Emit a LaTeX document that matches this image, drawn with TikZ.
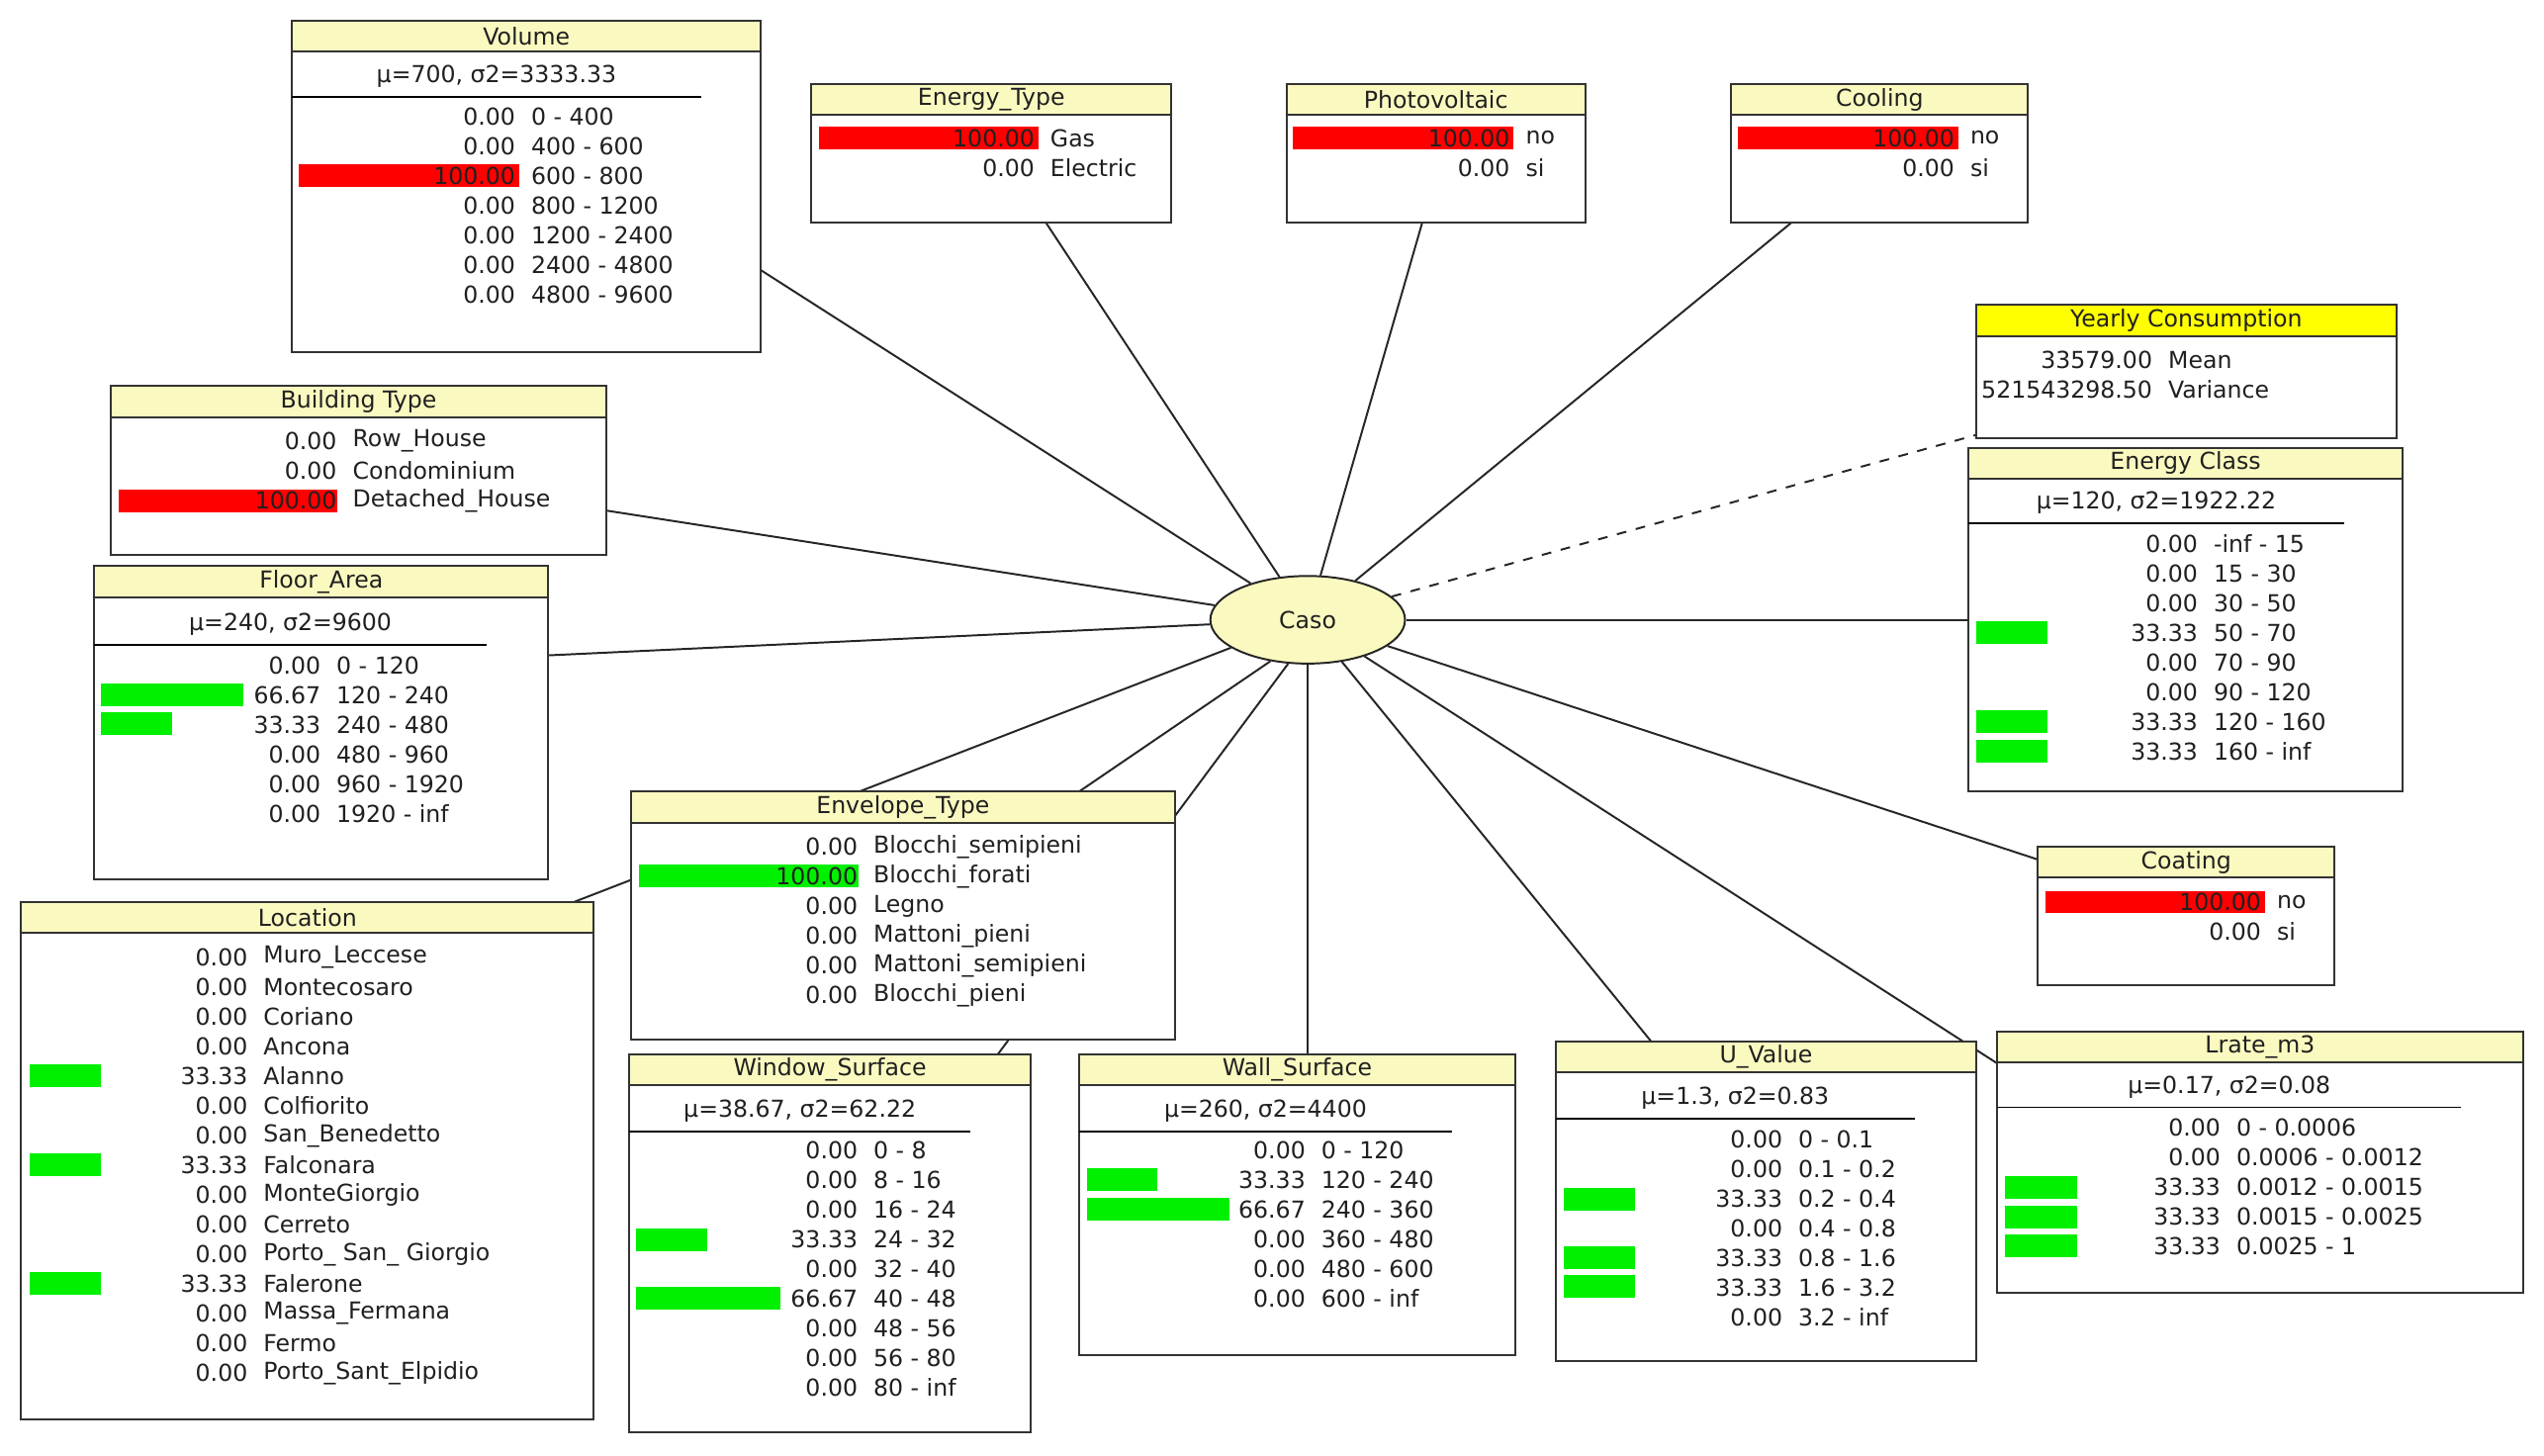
\documentclass[tikz,border=0pt]{standalone}
\usepackage{fontspec}
\setmainfont{DejaVu Sans}
\usetikzlibrary{fit,shapes.geometric}
\definecolor{tyel}{HTML}{FAFAC0}
\definecolor{tyel2}{HTML}{FFFF00}
\definecolor{bred}{HTML}{FF0000}
\definecolor{bgrn}{HTML}{00F000}
\definecolor{txtc}{HTML}{202020}
\newcommand\nbox[7]{% name x1 y1 x2 y2 title fill
  \node[frame,fit={(#2,#3)(#4,#5)}] (#1) {};
  \node[frame,fill=#7,fit={(#2,#3)(#4,#3+19)}] (#1-t) {};
  \node[txt] (#1-tt) at (#1-t) {#6};}
\newcommand\stat[5]{% name x1 x2 y text
  \node[txt] (#1-s) at ({(#2+#3)/2},#4) {#5};
  \draw[line width=0.6pt] (#2,#4+12.5) -- (#3,#4+12.5);}
\newcommand\pbar[4]{\fill[#4] (#1,#3-7) rectangle (#2,#3+7);}
\newcommand\rowsat[4]{%
  \foreach \v/\l [count=\i] in {#4} {%
    \pgfmathsetmacro\yy{#3+(\i-1)*18.3}
    \node[txt,anchor=east] (#1-v\i) at (#2,\yy) {\v};
    \node[txt,anchor=west] (#1-l\i) at (#2+9,\yy) {\l};}}
\begin{document}
\begin{tikzpicture}[x=0.5pt,y=-0.5pt,
  frame/.style={draw=black!80,line width=0.6pt,fill=white,inner sep=0pt},
  txt/.style={inner sep=0pt,font=\fontsize{7.2}{9}\selectfont,text=txtc},
  conn/.style={draw=black!85,line width=0.6pt}]
\useasboundingbox (0,0) rectangle (1568,897);
\fill[white] (0,0) rectangle (1568,897);
% connector endpoints
\coordinate (pVol) at (440,148);
\coordinate (pET) at (630,115);
\coordinate (pPV) at (883,115);
\coordinate (pCool) at (1130,116);
\coordinate (pYC) at (1240,262);
\coordinate (pEC) at (1240,382);
\coordinate (pBT) at (350,311);
\coordinate (pFA) at (315,405);
\coordinate (pLoc) at (320,569);
\coordinate (pWin) at (600,670);
\coordinate (pEnv) at (640,505);
\coordinate (pWall) at (806,670);
\coordinate (pU) at (1030,657);
\coordinate (pLr) at (1235,658);
\coordinate (pCoat) at (1275,536);
\node[ellipse,draw=black!85,line width=0.6pt,fill=tyel,minimum width=60pt,minimum height=27pt,txt] (caso) at (806,382) {Caso};
\foreach \p in {pVol,pET,pPV,pCool,pEC,pBT,pFA,pWall,pU,pLr,pCoat}
  \draw[conn] (caso) -- (\p);
\draw[conn] (caso.200) -- (pLoc);
\draw[conn] (caso.228) -- (pEnv);
\draw[conn] (caso.246) -- (pWin);
\draw[conn,dashed] (caso) -- (pYC);
% Volume
\nbox{vol}{180}{13}{469}{217}{Volume}{tyel}
\stat{vol}{180}{432}{47}{μ=700, σ2=3333.33}
\pbar{184}{320}{108}{bred}
\rowsat{vol}{318}{72}{0.00/0 - 400,0.00/400 - 600,100.00/600 - 800,0.00/800 - 1200,0.00/1200 - 2400,0.00/2400 - 4800,0.00/4800 - 9600}
% Energy type
\nbox{et}{500}{52}{722}{137}{Energy\_Type}{tyel}
\pbar{505}{640}{85}{bred}
\rowsat{et}{638}{85}{100.00/Gas,0.00/Electric}
% PV
\nbox{pv}{793}{52}{977}{137}{Photovoltaic}{tyel}
\pbar{797}{933}{85}{bred}
\rowsat{pv}{931}{85}{100.00/no,0.00/si}
% Cooling
\nbox{cool}{1067}{52}{1250}{137}{Cooling}{tyel}
\pbar{1071}{1207}{85}{bred}
\rowsat{cool}{1205}{85}{100.00/no,0.00/si}
% Yearly
\nbox{yc}{1218}{188}{1477}{270}{Yearly Consumption}{tyel2}
\rowsat{yc}{1327}{222}{33579.00/Mean,521543298.50/Variance}
% Energy class
\nbox{ec}{1213}{276}{1481}{488}{Energy Class}{tyel}
\stat{ec}{1213}{1445}{310}{μ=120, σ2=1922.22}
\pbar{1218}{1262}{390}{bgrn}
\pbar{1218}{1262}{445}{bgrn}
\pbar{1218}{1262}{463}{bgrn}
\rowsat{ec}{1355}{335}{0.00/-inf - 15,0.00/15 - 30,0.00/30 - 50,33.33/50 - 70,0.00/70 - 90,0.00/90 - 120,33.33/120 - 160,33.33/160 - inf}
% Building type
\nbox{bt}{68}{238}{374}{342}{Building Type}{tyel}
\pbar{73}{208}{309}{bred}
\rowsat{bt}{208}{272}{0.00/Row\_House,0.00/Condominium,100.00/Detached\_House}
% Floor area
\nbox{fa}{58}{349}{338}{542}{Floor\_Area}{tyel}
\stat{fa}{58}{300}{385}{μ=240, σ2=9600}
\pbar{62}{150}{428}{bgrn}
\pbar{62}{106}{446}{bgrn}
\rowsat{fa}{198}{410}{0.00/0 - 120,66.67/120 - 240,33.33/240 - 480,0.00/480 - 960,0.00/960 - 1920,0.00/1920 - inf}
% Location
\nbox{loc}{13}{556}{366}{875}{Location}{tyel}
\pbar{18}{62}{663}{bgrn}
\pbar{18}{62}{718}{bgrn}
\pbar{18}{62}{791}{bgrn}
\rowsat{loc}{153}{590}{0.00/Muro\_Leccese,0.00/Montecosaro,0.00/Coriano,0.00/Ancona,33.33/Alanno,0.00/Colfiorito,0.00/San\_Benedetto,33.33/Falconara,0.00/MonteGiorgio,0.00/Cerreto,0.00/Porto\_ San\_ Giorgio,33.33/Falerone,0.00/Massa\_Fermana,0.00/Fermo,0.00/Porto\_Sant\_Elpidio}
% Envelope
\nbox{env}{389}{488}{724}{641}{Envelope\_Type}{tyel}
\pbar{394}{529}{540}{bgrn}
\rowsat{env}{529}{522}{0.00/Blocchi\_semipieni,100.00/Blocchi\_forati,0.00/Legno,0.00/Mattoni\_pieni,0.00/Mattoni\_semipieni,0.00/Blocchi\_pieni}
% Window
\nbox{win}{388}{650}{635}{883}{Window\_Surface}{tyel}
\stat{win}{388}{598}{685}{μ=38.67, σ2=62.22}
\pbar{392}{436}{764}{bgrn}
\pbar{392}{481}{800}{bgrn}
\rowsat{win}{529}{709}{0.00/0 - 8,0.00/8 - 16,0.00/16 - 24,33.33/24 - 32,0.00/32 - 40,66.67/40 - 48,0.00/48 - 56,0.00/56 - 80,0.00/80 - inf}
% Wall
\nbox{wall}{665}{650}{934}{835}{Wall\_Surface}{tyel}
\stat{wall}{665}{895}{685}{μ=260, σ2=4400}
\pbar{670}{713}{727}{bgrn}
\pbar{670}{758}{745}{bgrn}
\rowsat{wall}{805}{709}{0.00/0 - 120,33.33/120 - 240,66.67/240 - 360,0.00/360 - 480,0.00/480 - 600,0.00/600 - inf}
% U value
\nbox{uv}{959}{642}{1218}{839}{U\_Value}{tyel}
\stat{uv}{959}{1180}{677}{μ=1.3, σ2=0.83}
\pbar{964}{1008}{739}{bgrn}
\pbar{964}{1008}{775}{bgrn}
\pbar{964}{1008}{793}{bgrn}
\rowsat{uv}{1099}{702}{0.00/0 - 0.1,0.00/0.1 - 0.2,33.33/0.2 - 0.4,0.00/0.4 - 0.8,33.33/0.8 - 1.6,33.33/1.6 - 3.2,0.00/3.2 - inf}
% Coating
\nbox{coat}{1256}{522}{1439}{607}{Coating}{tyel}
\pbar{1261}{1396}{556}{bred}
\rowsat{coat}{1394}{556}{100.00/no,0.00/si}
% Lrate
\nbox{lr}{1231}{636}{1555}{797}{Lrate\_m3}{tyel}
\stat{lr}{1231}{1517}{670}{μ=0.17, σ2=0.08}
\pbar{1236}{1280}{732}{bgrn}
\pbar{1236}{1280}{750}{bgrn}
\pbar{1236}{1280}{768}{bgrn}
\rowsat{lr}{1369}{695}{0.00/0 - 0.0006,0.00/0.0006 - 0.0012,33.33/0.0012 - 0.0015,33.33/0.0015 - 0.0025,33.33/0.0025 - 1}
\end{tikzpicture}
\end{document}
